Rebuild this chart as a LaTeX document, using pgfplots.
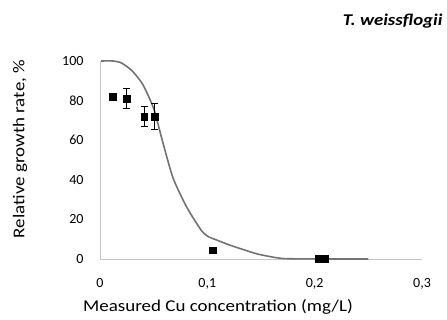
\documentclass[border=0pt]{standalone}
\usepackage{fontspec}
\setmainfont{Carlito}
\newfontfamily\lbl[FakeStretch=1.15]{Carlito}
\usepackage{pgfplots}
\pgfplotsset{compat=1.18}
\begin{document}
\begin{tikzpicture}[x=1pt,y=1pt]
\begin{axis}[
  at={(0,0)}, anchor=south west,
  scale only axis, width=322pt, height=198pt,
  xmin=0, xmax=0.3, ymin=0, ymax=100,
  axis x line*=bottom, axis y line*=left,
  axis line style={gray!45, line width=0.8pt},
  xtick={0,0.1,0.2,0.3}, xticklabels={0,{0,1},{0,2},{0,3}},
  ytick={0,20,...,100},
  major tick length=0pt,
  tick label style={font=\fontsize{14}{16}\selectfont},
  /pgf/number format/assume math mode=true,
  xticklabel style={yshift=-16pt},
  yticklabel style={xshift=-13pt},
  clip=false,
]
\addplot[color=black!55, line width=1.6pt, smooth, tension=0.4] coordinates {
 (0.001,100) (0.012,100) (0.02,99) (0.03,95) (0.04,88) (0.05,76) (0.058,60)
 (0.068,41) (0.081,26) (0.095,14) (0.102,11)
};
\addplot[color=black!55, line width=1.6pt, smooth, tension=0.5] coordinates {
 (0.102,11) (0.121,7) (0.135,4.5) (0.147,2.5) (0.165,0.6) (0.18,0.1) (0.25,0)
};
\addplot[only marks, mark=square*, mark size=3.3pt, black,
  error bars/.cd, y dir=both, y explicit, error bar style={black, line width=0.8pt}, error mark options={rotate=90, mark size=3.5pt, line width=0.8pt}]
 coordinates {
 (0.012,82) +- (0,0)
 (0.025,81) +- (0,5)
 (0.041,72) +- (0,5)
 (0.051,72) +- (0,6.5)
 (0.105,4.5) +- (0,0)
 (0.204,0) +- (0,0)
 (0.210,0) +- (0,0)
};
\end{axis}
\node[anchor=east, font=\lbl\fontsize{16.4}{18}\selectfont\bfseries\itshape] at (346,238) {T. weissflogii};
\node[rotate=90, font=\lbl\fontsize{16.5}{18}\selectfont] at (-80,110) {Relative growth rate, \%};
\node[font=\lbl\fontsize{16.5}{18}\selectfont] at (118,-48) {Measured Cu concentration (mg/L)};
\pgfresetboundingbox
\path (-100,-61) rectangle (347,259);
\end{tikzpicture}
\end{document}
